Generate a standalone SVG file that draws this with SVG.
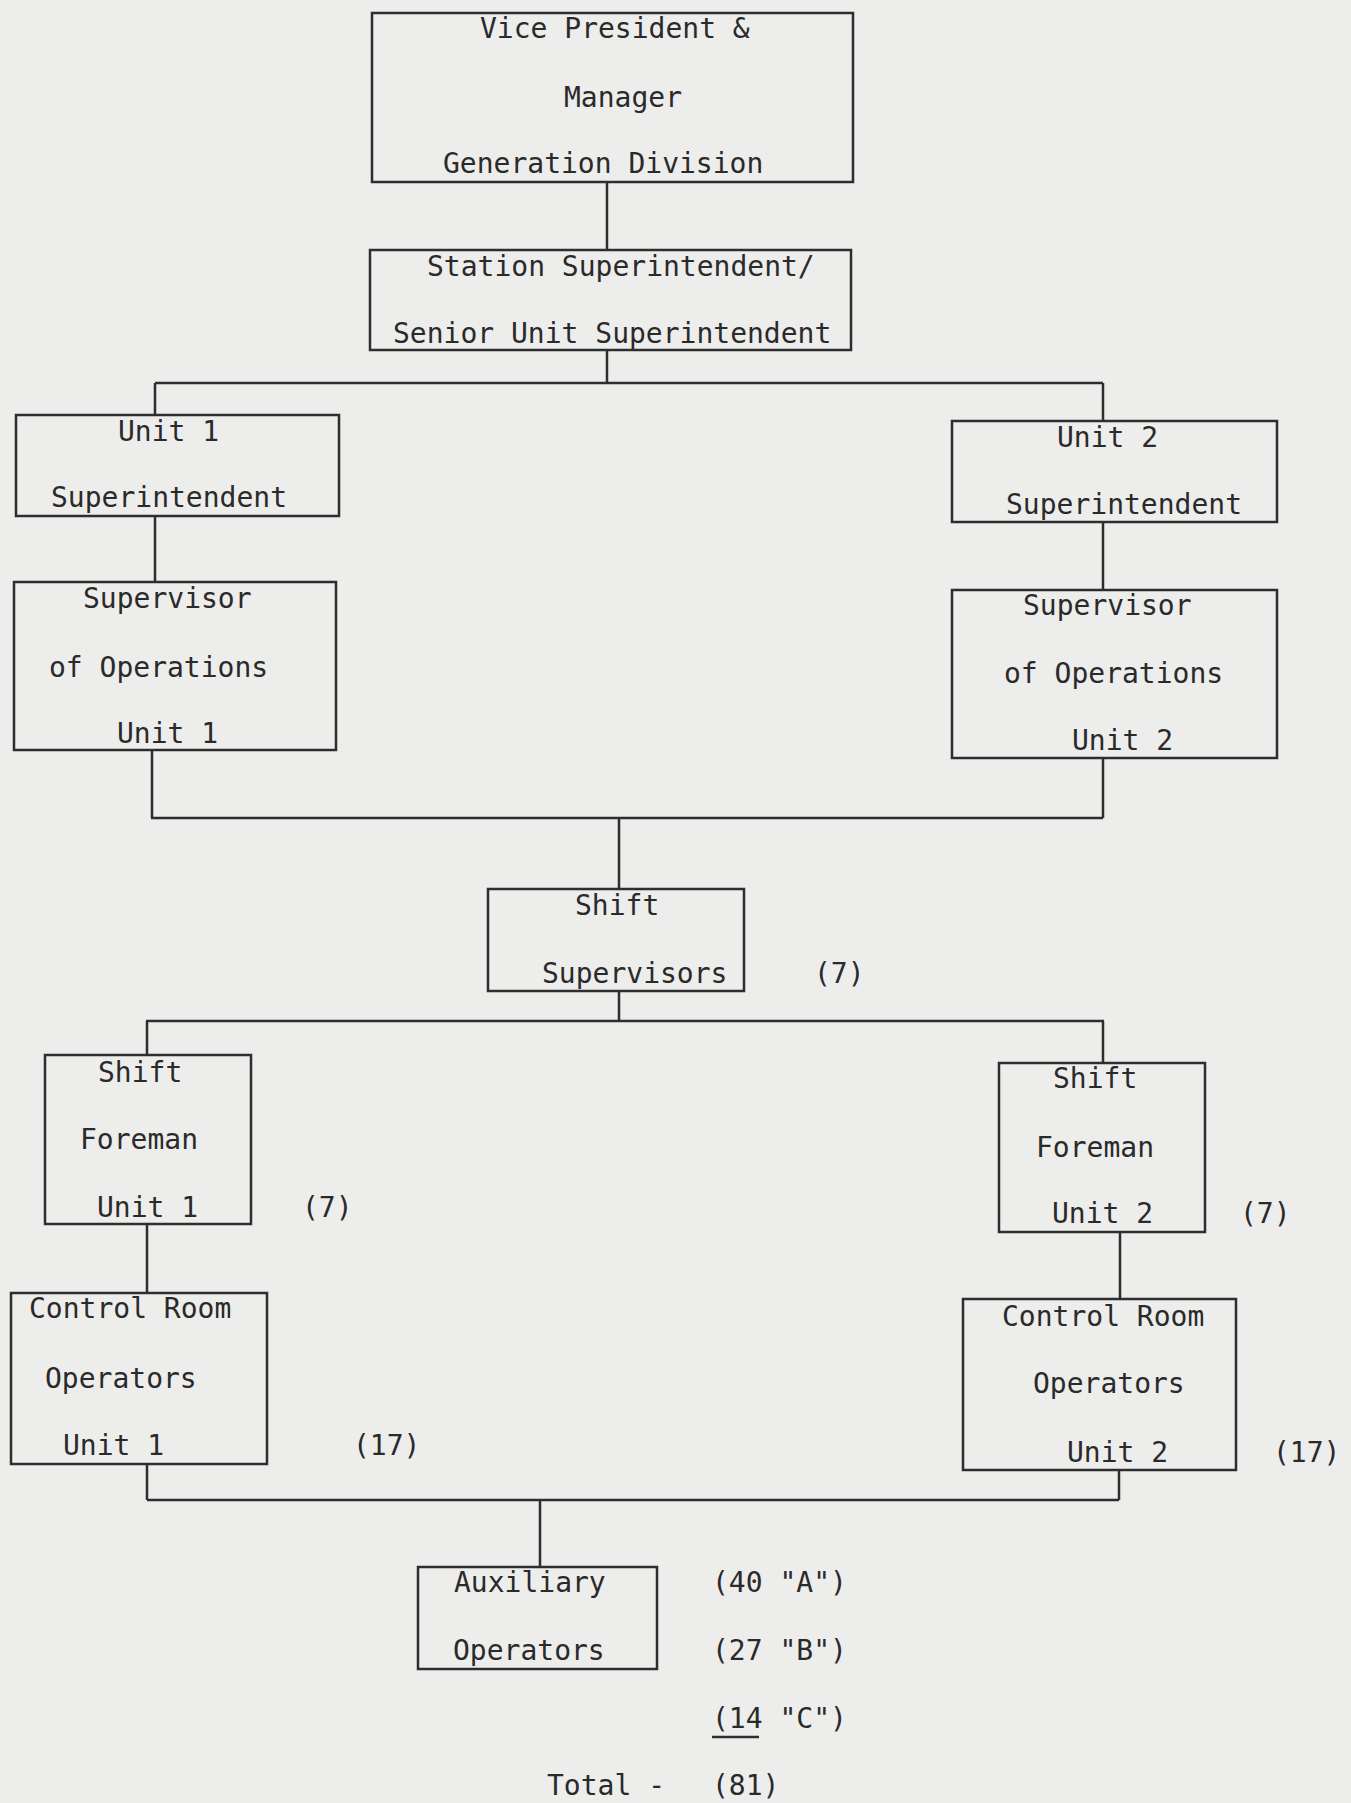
<svg xmlns="http://www.w3.org/2000/svg" width="1351" height="1803" viewBox="0 0 1351 1803">
<style>
.box{fill:none;stroke:#2e2e2e;stroke-width:2.5}
.ln{fill:none;stroke:#2e2e2e;stroke-width:2.5}
text{font-family:"DejaVu Sans Mono","Liberation Mono",monospace;font-size:28px;fill:#2a2a2a}
</style>
<rect width="1351" height="1803" fill="#ededec"/>
<g id="connectors">
<path class="ln" d="M607 182V250"/>
<path class="ln" d="M607 350V383M155 383H1103M155 383V415M1103 383V421"/>
<path class="ln" d="M155 516V582M1103 522V590"/>
<path class="ln" d="M152 750V818M1103 758V818M151 818H1103M619 818V889"/>
<path class="ln" d="M619 991V1021M146 1021H1104M147 1021V1055M1103 1021V1063"/>
<path class="ln" d="M147 1224V1293M1120 1232V1299"/>
<path class="ln" d="M147 1464V1500M1119 1470V1500M147 1500H1119M540 1500V1567"/>
<path class="ln" d="M712 1737H759"/>
</g>
<g id="vp">
<rect class="box" x="372" y="13" width="481" height="169"/>
<text x="480" y="38">Vice President &amp;</text>
<text x="564" y="107">Manager</text>
<text x="443" y="173">Generation Division</text>
</g>
<g id="station">
<rect class="box" x="370" y="250" width="481" height="100"/>
<text x="427" y="276">Station Superintendent/</text>
<text x="393" y="343">Senior Unit Superintendent</text>
</g>
<g id="unit1-super">
<rect class="box" x="16" y="415" width="323" height="101"/>
<text x="118" y="441">Unit 1</text>
<text x="51" y="507">Superintendent</text>
</g>
<g id="unit2-super">
<rect class="box" x="952" y="421" width="325" height="101"/>
<text x="1057" y="447">Unit 2</text>
<text x="1006" y="514">Superintendent</text>
</g>
<g id="supops1">
<rect class="box" x="14" y="582" width="322" height="168"/>
<text x="83" y="608">Supervisor</text>
<text x="49" y="677">of Operations</text>
<text x="117" y="743">Unit 1</text>
</g>
<g id="supops2">
<rect class="box" x="952" y="590" width="325" height="168"/>
<text x="1023" y="615">Supervisor</text>
<text x="1004" y="683">of Operations</text>
<text x="1072" y="750">Unit 2</text>
</g>
<g id="shift-supervisors">
<rect class="box" x="488" y="889" width="256" height="102"/>
<text x="575" y="915">Shift</text>
<text x="542" y="983">Supervisors</text>
<text x="814" y="983">(7)</text>
</g>
<g id="foreman1">
<rect class="box" x="45" y="1055" width="206" height="169"/>
<text x="98" y="1082">Shift</text>
<text x="80" y="1149">Foreman</text>
<text x="97" y="1217">Unit 1</text>
<text x="302" y="1217">(7)</text>
</g>
<g id="foreman2">
<rect class="box" x="999" y="1063" width="206" height="169"/>
<text x="1053" y="1088">Shift</text>
<text x="1036" y="1157">Foreman</text>
<text x="1052" y="1223">Unit 2</text>
<text x="1240" y="1223">(7)</text>
</g>
<g id="cro1">
<rect class="box" x="11" y="1293" width="256" height="171"/>
<text x="29" y="1318">Control Room</text>
<text x="45" y="1388">Operators</text>
<text x="63" y="1455">Unit 1</text>
<text x="353" y="1455">(17)</text>
</g>
<g id="cro2">
<rect class="box" x="963" y="1299" width="273" height="171"/>
<text x="1002" y="1326">Control Room</text>
<text x="1033" y="1393">Operators</text>
<text x="1067" y="1462">Unit 2</text>
<text x="1273" y="1462">(17)</text>
</g>
<g id="aux">
<rect class="box" x="418" y="1567" width="239" height="102"/>
<text x="454" y="1592">Auxiliary</text>
<text x="453" y="1660">Operators</text>
<text x="712" y="1592">(40 "A")</text>
<text x="712" y="1660">(27 "B")</text>
<text x="712" y="1728">(14 "C")</text>
<text x="547" y="1795">Total -</text>
<text x="712" y="1795">(81)</text>
</g>
</svg>
